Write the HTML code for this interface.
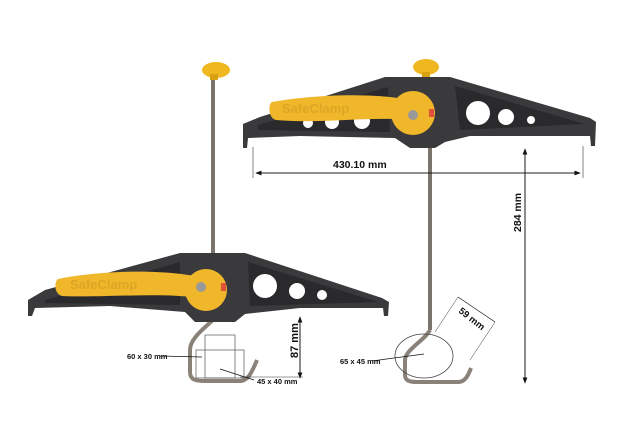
<!DOCTYPE html>
<html><head><style>
html,body{margin:0;padding:0;background:#fff;}
svg{display:block;}
text{font-family:"Liberation Sans",sans-serif;font-weight:bold;fill:#111;}
</style></head><body>
<svg width="640" height="444" viewBox="0 0 640 444" xmlns="http://www.w3.org/2000/svg">
<defs>
<marker id="a" markerWidth="8" markerHeight="6" refX="7" refY="3" orient="auto"><path d="M0,0 L8,3 L0,6 z" fill="#111"/></marker>
</defs>
<!-- LEFT CLAMP -->
<line x1="213" y1="72" x2="213" y2="255" stroke="#7a746c" stroke-width="4"/>
<ellipse cx="216" cy="70" rx="14" ry="8" fill="#f0b820"/>
<rect x="210" y="74" width="8" height="6" fill="#d9a010"/>
<path d="M215,318 C205,328 190,338 190,350 L190,372 C190,380 196,381 205,381 L240,381 C248,381 252,372 257,360" fill="none" stroke="#8a8278" stroke-width="4"/>
<path d="M28,300 L45,290 L180,253 L245,253 L382,298 L389,302 L388,316 L384,316 L383,308 L300,308 L245,314 L235,322 L195,322 L185,312 L110,306 L35,308 L32,316 L28,316 Z" fill="#3a3a3c"/>
<path d="M45,300 L180,262 L180,305 L45,303 Z M248,262 L378,302 L250,306 Z" fill="#2a2a2c"/>
<circle cx="265" cy="286" r="12" fill="#fff"/>
<circle cx="297" cy="291" r="8" fill="#fff"/>
<circle cx="322" cy="295" r="5" fill="#fff"/>
<path d="M58,279 C90,272 150,268 195,276 L200,298 C160,292 100,298 62,296 C54,294 54,282 58,279 Z" fill="#f0b72a"/>
<circle cx="206" cy="290" r="21" fill="#f0b72a"/>
<circle cx="201" cy="287" r="5" fill="#999"/>
<rect x="221" y="283" width="5" height="8" fill="#e0503a"/>
<text x="70" y="289" font-size="13" style="fill:#dca625">SafeClamp</text>
<!-- boxes -->
<rect x="205" y="335" width="30" height="43" fill="none" stroke="#555" stroke-width="0.7"/>
<rect x="196" y="350" width="48" height="28" fill="none" stroke="#555" stroke-width="0.7"/>
<!-- RIGHT CLAMP -->
<line x1="430" y1="145" x2="430" y2="330" stroke="#7a746c" stroke-width="4"/>
<path d="M430,330 C425,340 405,350 405,360 L405,375 C405,381 410,382 418,382 L458,382 C465,382 468,376 471,368" fill="none" stroke="#8a8278" stroke-width="4"/>
<ellipse cx="424" cy="356" rx="29" ry="22" fill="none" stroke="#444" stroke-width="0.8"/>
<ellipse cx="426" cy="67" rx="13" ry="8" fill="#f0b820"/>
<rect x="422" y="72" width="8" height="6" fill="#d9a010"/>
<path d="M243,124 L260,117 L385,77 L450,77 L590,118 L596,122 L595,146 L591,146 L590,136 L470,136 L445,142 L435,148 L410,148 L395,138 L300,136 L248,138 L247,148 L243,148 Z" fill="#3a3a3c"/>
<path d="M258,125 L388,87 L390,132 L258,130 Z M455,86 L585,124 L460,130 Z" fill="#2a2a2c"/>
<circle cx="478" cy="113" r="12" fill="#fff"/>
<circle cx="506" cy="117" r="8" fill="#fff"/>
<circle cx="531" cy="120" r="4" fill="#fff"/>
<circle cx="308" cy="123" r="5" fill="#fff"/>
<circle cx="332" cy="122" r="7" fill="#fff"/>
<circle cx="362" cy="121" r="8" fill="#fff"/>
<path d="M272,102 C310,95 370,92 410,100 L412,120 C370,116 320,124 276,120 C268,118 268,104 272,102 Z" fill="#f0b72a"/>
<circle cx="413" cy="113" r="22" fill="#f0b72a"/>
<circle cx="413" cy="115" r="5" fill="#999"/>
<rect x="429" y="109" width="5" height="8" fill="#e0503a"/>
<text x="282" y="113" font-size="13" style="fill:#dca625">SafeClamp</text>
<!-- dimensions -->
<line x1="253" y1="147" x2="253" y2="178" stroke="#333" stroke-width="0.6"/>
<line x1="583" y1="146" x2="583" y2="178" stroke="#333" stroke-width="0.6"/>
<line x1="256" y1="173" x2="580" y2="173" stroke="#111" stroke-width="0.8" marker-end="url(#a)"/>
<line x1="580" y1="173" x2="256" y2="173" stroke="#111" stroke-width="0.8" marker-end="url(#a)"/>
<text x="333" y="168" font-size="10.5">430.10 mm</text>
<line x1="525" y1="378" x2="525" y2="149" stroke="#111" stroke-width="0.8" marker-end="url(#a)"/>
<line x1="525" y1="150" x2="525" y2="383" stroke="#111" stroke-width="0.8" marker-end="url(#a)"/>
<text transform="translate(521,232) rotate(-90)" font-size="10.5">284 mm</text>
<line x1="300" y1="375" x2="300" y2="317" stroke="#111" stroke-width="0.8" marker-end="url(#a)"/>
<line x1="300" y1="318" x2="300" y2="378" stroke="#111" stroke-width="0.8" marker-end="url(#a)"/>
<line x1="240" y1="377" x2="303" y2="377" stroke="#333" stroke-width="0.6"/>
<text transform="translate(298,358) rotate(-90)" font-size="11">87 mm</text>
<line x1="160" y1="356" x2="202" y2="357" stroke="#111" stroke-width="0.7"/>
<text x="127" y="359" font-size="7.5">60 x 30 mm</text>
<line x1="220" y1="369" x2="254" y2="380" stroke="#111" stroke-width="0.7"/>
<text x="257" y="384" font-size="7.5">45 x 40 mm</text>
<line x1="372" y1="361" x2="424" y2="354" stroke="#111" stroke-width="0.7"/>
<text x="340" y="364" font-size="7.5">65 x 45 mm</text>
<line x1="458" y1="297" x2="495" y2="322" stroke="#111" stroke-width="0.7"/>
<line x1="435" y1="332" x2="458" y2="297" stroke="#333" stroke-width="0.5"/>
<line x1="470" y1="360" x2="495" y2="322" stroke="#333" stroke-width="0.5"/>
<text transform="translate(458,312) rotate(38)" font-size="9.5">59 mm</text>
</svg>
</body></html>
